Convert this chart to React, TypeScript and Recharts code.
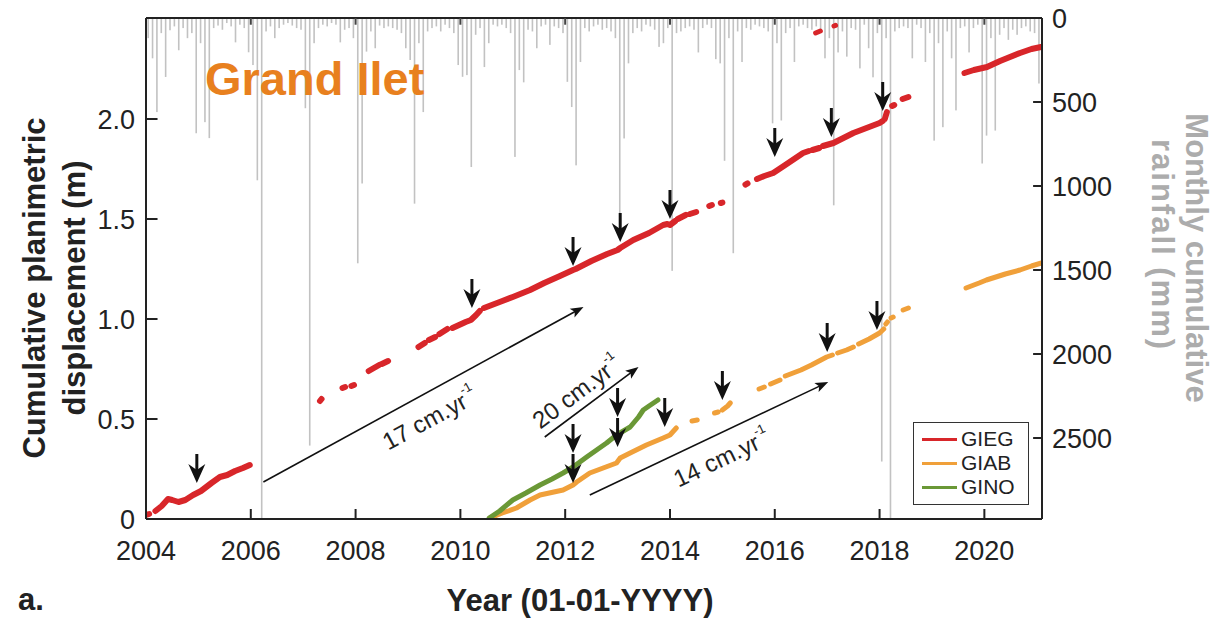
import React from 'react';
import {
  ComposedChart, Bar, Line, XAxis, YAxis, Legend, ReferenceLine, ReferenceDot,
} from 'recharts';

const FONT = "'Liberation Sans', Arial, Helvetica, sans-serif";
const W = 1217;
const H = 620;

// axis ticks
const YEAR_TICKS = [2004, 2006, 2008, 2010, 2012, 2014, 2016, 2018, 2020];
const DISP_TICKS = [0, 0.5, 1, 1.5, 2];
const RAIN_TICKS = [0, 500, 1000, 1500, 2000, 2500];

// monthly cumulative rainfall (mm), Jan..Dec
const rain2004 = [120, 240, 560, 90, 351, 73, 50, 192, 60, 120, 90, 686];
const rain2005 = [150, 620, 715, 60, 45, 70, 30, 50, 145, 40, 60, 204];
const rain2006 = [280, 966, 2980, 80, 50, 120, 60, 40, 30, 45, 60, 70];
const rain2007 = [537, 2545, 150, 60, 40, 50, 30, 40, 145, 70, 60, 120];
const rain2008 = [1460, 985, 200, 80, 180, 45, 60, 50, 60, 70, 90, 180];
const rain2009 = [250, 1105, 150, 560, 80, 60, 50, 80, 40, 60, 90, 280];
const rain2010 = [350, 340, 887, 100, 60, 292, 150, 40, 50, 40, 60, 90];
const rain2011 = [827, 310, 383, 70, 80, 180, 50, 40, 160, 50, 60, 90];
const rain2012 = [380, 530, 877, 262, 60, 80, 50, 40, 70, 60, 80, 120];
const rain2013 = [1165, 717, 270, 90, 60, 80, 40, 50, 70, 172, 150, 60];
const rain2014 = [1505, 90, 80, 60, 50, 70, 205, 60, 40, 60, 245, 270];
const rain2015 = [850, 120, 1400, 80, 262, 60, 70, 40, 50, 60, 80, 627];
const rain2016 = [150, 610, 90, 60, 262, 50, 40, 60, 70, 50, 80, 240];
const rain2017 = [120, 1115, 205, 80, 230, 60, 70, 300, 40, 180, 353, 90];
const rain2018 = [2640, 120, 2980, 80, 60, 50, 60, 240, 40, 60, 262, 90];
const rain2019 = [730, 150, 650, 80, 240, 550, 60, 50, 205, 60, 40, 866];
const rain2020 = [700, 120, 670, 100, 60, 130, 70, 100, 60, 50, 80, 90];
const rain2021 = [390];

const RAIN_YEARS = [
  rain2004, rain2005, rain2006, rain2007, rain2008, rain2009, rain2010, rain2011, rain2012,
  rain2013, rain2014, rain2015, rain2016, rain2017, rain2018, rain2019, rain2020, rain2021,
];

// GNSS displacement tracks: [decimal year, cumulative displacement (m)], one inner list per recorded stretch
const giegSegments: [number, number][][] = [
  [[2004.0, 0.02], [2004.06, 0.025]],
  [[2004.18, 0.04], [2004.3, 0.065], [2004.42, 0.1], [2004.5, 0.095], [2004.62, 0.085], [2004.75, 0.095],
    [2004.9, 0.12], [2005.05, 0.14], [2005.25, 0.18], [2005.41, 0.21], [2005.55, 0.22], [2005.7, 0.24],
    [2005.85, 0.255], [2005.98, 0.27]],
  [[2007.32, 0.59], [2007.35, 0.6]],
  [[2007.75, 0.655], [2007.8, 0.66]],
  [[2007.92, 0.665], [2007.97, 0.67]],
  [[2008.25, 0.74], [2008.45, 0.77]],
  [[2008.5, 0.775], [2008.62, 0.79]],
  [[2009.2, 0.86], [2009.32, 0.88]],
  [[2009.4, 0.895], [2009.52, 0.91]],
  [[2009.6, 0.925], [2009.75, 0.95]],
  [[2009.85, 0.955], [2010.1, 0.985], [2010.2, 0.995], [2010.3, 1.02], [2010.37, 1.04]],
  [[2010.45, 1.055], [2010.8, 1.09], [2011.0, 1.11], [2011.33, 1.145], [2011.6, 1.18], [2011.9, 1.215],
    [2012.15, 1.245], [2012.2, 1.25], [2012.5, 1.29], [2012.8, 1.325], [2013.0, 1.345], [2013.05, 1.355],
    [2013.3, 1.395], [2013.6, 1.43], [2013.87, 1.47], [2013.95, 1.475], [2014.0, 1.47], [2014.1, 1.49]],
  [[2014.15, 1.5], [2014.3, 1.52]],
  [[2014.38, 1.525], [2014.5, 1.535]],
  [[2014.75, 1.565], [2014.8, 1.57]],
  [[2014.97, 1.58], [2015.0, 1.582]],
  [[2015.44, 1.672], [2015.48, 1.678]],
  [[2015.66, 1.7], [2015.8, 1.715], [2015.97, 1.73], [2016.2, 1.77], [2016.54, 1.83], [2016.65, 1.84]],
  [[2016.72, 1.845], [2016.85, 1.855]],
  [[2016.92, 1.865], [2017.12, 1.88], [2017.5, 1.93], [2017.8, 1.96], [2018.0, 1.98], [2018.06, 1.99]],
  [[2018.1, 2.0], [2018.14, 2.035]],
  [[2018.24, 2.065], [2018.28, 2.07]],
  [[2018.44, 2.1], [2018.55, 2.11]],
  [[2019.62, 2.23], [2019.8, 2.245], [2020.05, 2.26], [2020.3, 2.29], [2020.68, 2.33], [2020.9, 2.35],
    [2021.08, 2.36]],
];

// isolated GIEG readings near the top of the frame
const giegOutliers: [number, number][][] = [
  [[2016.78, 2.43], [2016.87, 2.44]],
  [[2017.13, 2.465], [2017.16, 2.468]],
];

const giabSegments: [number, number][][] = [
  [[2010.56, 0.005], [2010.8, 0.03], [2011.07, 0.055], [2011.33, 0.095], [2011.52, 0.12], [2011.96, 0.145],
    [2012.15, 0.17], [2012.22, 0.185], [2012.47, 0.23], [2012.98, 0.28], [2013.05, 0.305], [2013.24, 0.33],
    [2013.55, 0.37], [2013.87, 0.405], [2014.0, 0.42], [2014.12, 0.455]],
  [[2014.42, 0.49], [2014.52, 0.495]],
  [[2014.85, 0.53], [2014.92, 0.535]],
  [[2015.0, 0.545], [2015.1, 0.565], [2015.15, 0.58]],
  [[2015.7, 0.65], [2015.8, 0.66]],
  [[2015.92, 0.675], [2016.1, 0.695]],
  [[2016.2, 0.715], [2016.5, 0.745], [2016.7, 0.77], [2016.99, 0.81], [2017.1, 0.82]],
  [[2017.2, 0.83], [2017.37, 0.845], [2017.5, 0.86]],
  [[2017.6, 0.875], [2017.8, 0.9], [2018.0, 0.93], [2018.08, 0.95]],
  [[2018.12, 0.975], [2018.15, 0.985]],
  [[2018.22, 1.005], [2018.26, 1.01]],
  [[2018.45, 1.045], [2018.55, 1.055]],
  [[2019.65, 1.155], [2019.9, 1.18], [2020.04, 1.195], [2020.4, 1.225], [2020.68, 1.245], [2020.9, 1.265],
    [2021.09, 1.28]],
];

const ginoSegments: [number, number][][] = [
  [[2010.55, 0.005], [2010.75, 0.04], [2011.0, 0.095], [2011.25, 0.13], [2011.52, 0.17], [2011.75, 0.2],
    [2011.96, 0.23], [2012.15, 0.26], [2012.41, 0.31], [2012.6, 0.345], [2012.79, 0.38], [2012.98, 0.42],
    [2013.24, 0.46], [2013.4, 0.51], [2013.49, 0.545], [2013.6, 0.565], [2013.77, 0.595]],
];

// acceleration events (arrow tips), on the displacement axis
const eventArrows = [
  { t: 2004.97, d: 0.18 }, { t: 2010.22, d: 1.055 }, { t: 2012.15, d: 1.265 }, { t: 2013.05, d: 1.385 },
  { t: 2014.0, d: 1.5 }, { t: 2016.0, d: 1.81 }, { t: 2017.08, d: 1.91 }, { t: 2018.06, d: 2.04 },
  { t: 2012.15, d: 0.33 }, { t: 2012.15, d: 0.18 }, { t: 2013.0, d: 0.51 }, { t: 2013.0, d: 0.36 },
  { t: 2013.9, d: 0.46 }, { t: 2015.0, d: 0.595 }, { t: 2017.0, d: 0.835 }, { t: 2017.95, d: 0.945 },
];

// mean velocity guides
const trendArrows = [
  { rate: 17, from: [2006.24, 0.185], to: [2012.35, 1.06], offset: 24, shift: -6 },
  { rate: 20, from: [2011.61, 0.41], to: [2013.4, 0.76], offset: -17, shift: -6 },
  { rate: 14, from: [2012.47, 0.12], to: [2017.02, 0.685], offset: 23, shift: 3 },
];

const SERIES = [
  { name: 'GIEG', color: '#d8262a' },
  { name: 'GIAB', color: '#f0a03a' },
  { name: 'GINO', color: '#6a9836' },
];

const rainData = RAIN_YEARS.flatMap((months, yi) =>
  months.map((mm, mi) => ({ t: 2004 + yi + (mi + 0.5) / 12, rain: mm })),
);

// flatten stretches into one track, with null breaks between them
const toTrack = (segments: [number, number][][]) => {
  const out: { t: number; d: number | null }[] = [];
  segments.forEach((seg, i) => {
    if (i > 0) out.push({ t: seg[0][0], d: null });
    seg.forEach(([t, d]) => out.push({ t, d }));
  });
  return out;
};

// hanging rain bar: thin stroke centred on the month
const RainStick = (props: any) => {
  const { x, y, width, height } = props;
  if (x == null || y == null || !height) return <g />;
  const top = Math.min(y, y + height);
  return <rect x={x + width / 2 - 0.8} y={top} width={1.6} height={Math.abs(height)} fill="#c2c2c2" />;
};

const DropArrow = (props: any) => {
  const { cx, cy } = props;
  if (cx == null || cy == null) return <g />;
  return (
    <g>
      <line x1={cx} y1={cy - 29} x2={cx} y2={cy - 12} stroke="#111" strokeWidth={3} />
      <path d={`M${cx},${cy} L${cx - 8.5},${cy - 19} L${cx},${cy - 13} L${cx + 8.5},${cy - 19} Z`} fill="#111" />
    </g>
  );
};

const TrendArrow = (props: any) => {
  const { x1, y1, x2, y2, rate, offset, shift } = props;
  const ang = Math.atan2(y2 - y1, x2 - x1);
  const ux = Math.cos(ang);
  const uy = Math.sin(ang);
  const px = -uy;
  const py = ux;
  const hx = x2 - ux * 13;
  const hy = y2 - uy * 13;
  const mx = (x1 + x2) / 2 + px * offset + ux * shift;
  const my = (y1 + y2) / 2 + py * offset + uy * shift;
  return (
    <g>
      <line x1={x1} y1={y1} x2={hx + ux * 4} y2={hy + uy * 4} stroke="#111" strokeWidth={1.6} />
      <path
        d={`M${x2},${y2} L${hx + px * 5},${hy + py * 5} L${hx + ux * 3},${hy + uy * 3} L${hx - px * 5},${hy - py * 5} Z`}
        fill="#111"
      />
      <text
        transform={`translate(${mx},${my}) rotate(${(ang * 180) / Math.PI})`}
        textAnchor="middle"
        dominantBaseline="central"
        fontFamily={FONT}
        fontSize={24}
        fill="#222"
      >
        {rate} cm.yr
        <tspan fontSize={13} dy={-10}>-1</tspan>
      </text>
    </g>
  );
};

const LegendBox = () => (
  <div
    style={{
      width: 116, height: 83, boxSizing: 'border-box', border: '1.5px solid #333', background: '#fff',
      padding: '4px 0 0 8px', fontFamily: FONT, fontSize: 21, color: '#222', lineHeight: '24px',
    }}
  >
    {SERIES.map((s) => (
      <div key={s.name} style={{ display: 'flex', alignItems: 'center', height: 24 }}>
        <span style={{ display: 'inline-block', width: 35, height: 3, background: s.color, marginRight: 4 }} />
        {s.name}
      </div>
    ))}
  </div>
);

const axisStroke = { stroke: '#222', strokeWidth: 2 };
const tickFont = { fontSize: 27, fill: '#222', fontFamily: FONT };

export default function App() {
  return (
    <div style={{ position: 'absolute', left: 0, top: 0, width: W, height: H, background: '#fff' }}>
      <ComposedChart width={W} height={H} data={rainData} margin={{ top: 18, right: 0, bottom: 0, left: 0 }}>
        <XAxis
          dataKey="t" type="number" domain={[2004, 2021.1]} allowDataOverflow ticks={YEAR_TICKS}
          tickLine={false} tickSize={0} tickMargin={22} height={101} axisLine={axisStroke} tick={tickFont}
        />
        <YAxis
          yAxisId="disp" orientation="left" type="number" domain={[0, 2.505]} allowDataOverflow ticks={DISP_TICKS}
          width={146} tickLine={false} tickSize={0} tickMargin={11} axisLine={axisStroke} tick={tickFont}
          tickFormatter={(v: number) => (v === 0 ? '0' : v.toFixed(1))}
        />
        <YAxis
          yAxisId="rain" orientation="right" type="number" domain={[0, 2982]} reversed allowDataOverflow
          ticks={RAIN_TICKS} width={175} tickLine={false} tickSize={0} tickMargin={10} axisLine={axisStroke}
          tick={tickFont}
        />

        <Bar yAxisId="rain" dataKey="rain" barSize={2} fill="#c2c2c2" shape={RainStick} isAnimationActive={false} />

        {/* frame top and inward tick marks */}
        <ReferenceLine yAxisId="rain" y={0} stroke="#222" strokeWidth={2} />
        {YEAR_TICKS.map((yr) => (
          <ReferenceLine key={`xb${yr}`} yAxisId="disp" stroke="#222" strokeWidth={2}
            segment={[{ x: yr, y: 0 }, { x: yr, y: 0.05 }]} />
        ))}
        {YEAR_TICKS.map((yr) => (
          <ReferenceLine key={`xt${yr}`} yAxisId="rain" stroke="#444" strokeWidth={2}
            segment={[{ x: yr, y: 0 }, { x: yr, y: 40 }]} />
        ))}
        {DISP_TICKS.map((v) => (
          <ReferenceLine key={`yl${v}`} yAxisId="disp" stroke="#222" strokeWidth={2}
            segment={[{ x: 2004, y: v }, { x: 2004.22, y: v }]} />
        ))}
        {RAIN_TICKS.map((v) => (
          <ReferenceLine key={`yr${v}`} yAxisId="rain" stroke="#222" strokeWidth={2}
            segment={[{ x: 2020.93, y: v }, { x: 2021.1, y: v }]} />
        ))}

        {trendArrows.map((a) => (
          <ReferenceLine
            key={`tr${a.rate}`} yAxisId="disp"
            segment={[{ x: a.from[0], y: a.from[1] }, { x: a.to[0], y: a.to[1] }]}
            shape={(p: any) => <TrendArrow {...p} rate={a.rate} offset={a.offset} shift={a.shift} />}
          />
        ))}

        <Line data={toTrack(giabSegments)} yAxisId="disp" dataKey="d" name="GIAB" stroke={SERIES[1].color}
          strokeWidth={5} strokeLinecap="round" strokeLinejoin="round" dot={false} connectNulls={false}
          isAnimationActive={false} />
        <Line data={toTrack(ginoSegments)} yAxisId="disp" dataKey="d" name="GINO" stroke={SERIES[2].color}
          strokeWidth={5} strokeLinecap="round" strokeLinejoin="round" dot={false} connectNulls={false}
          isAnimationActive={false} />
        <Line data={toTrack(giegSegments)} yAxisId="disp" dataKey="d" name="GIEG" stroke={SERIES[0].color}
          strokeWidth={6} strokeLinecap="round" strokeLinejoin="round" dot={false} connectNulls={false}
          isAnimationActive={false} />
        <Line data={toTrack(giegOutliers)} yAxisId="disp" dataKey="d" legendType="none" stroke={SERIES[0].color}
          strokeWidth={5} strokeLinecap="round" dot={false} connectNulls={false} isAnimationActive={false} />

        {eventArrows.map((e, i) => (
          <ReferenceDot key={`ev${i}`} yAxisId="disp" x={e.t} y={e.d} r={0} shape={DropArrow} />
        ))}

        <Legend layout="vertical" align="center" verticalAlign="middle" content={LegendBox}
          wrapperStyle={{ left: 913, top: 422, width: 116, height: 83 }} />
      </ComposedChart>

      <svg width={W} height={H} style={{ position: 'absolute', left: 0, top: 0, pointerEvents: 'none' }}>
        <text x={205} y={95} fontFamily={FONT} fontWeight="bold" fontSize={47} fill="#e8801e">Grand Ilet</text>
        <g fontFamily={FONT} fontWeight="bold" fontSize={31} fill="#222" textAnchor="middle">
          <text transform="translate(45,288) rotate(-90)">Cumulative planimetric</text>
          <text transform="translate(85,288) rotate(-90)">displacement (m)</text>
          <text x={580} y={611}>Year (01-01-YYYY)</text>
          <text x={18} y={610} textAnchor="start">a.</text>
        </g>
        <g fontFamily={FONT} fontWeight="bold" fontSize={31} fill="#acacac" textAnchor="middle">
          <text transform="translate(1186,258) rotate(90)">Monthly cumulative</text>
          <text transform="translate(1152,245) rotate(90)" letterSpacing={2}>rainfall (mm)</text>
        </g>
      </svg>
    </div>
  );
}
